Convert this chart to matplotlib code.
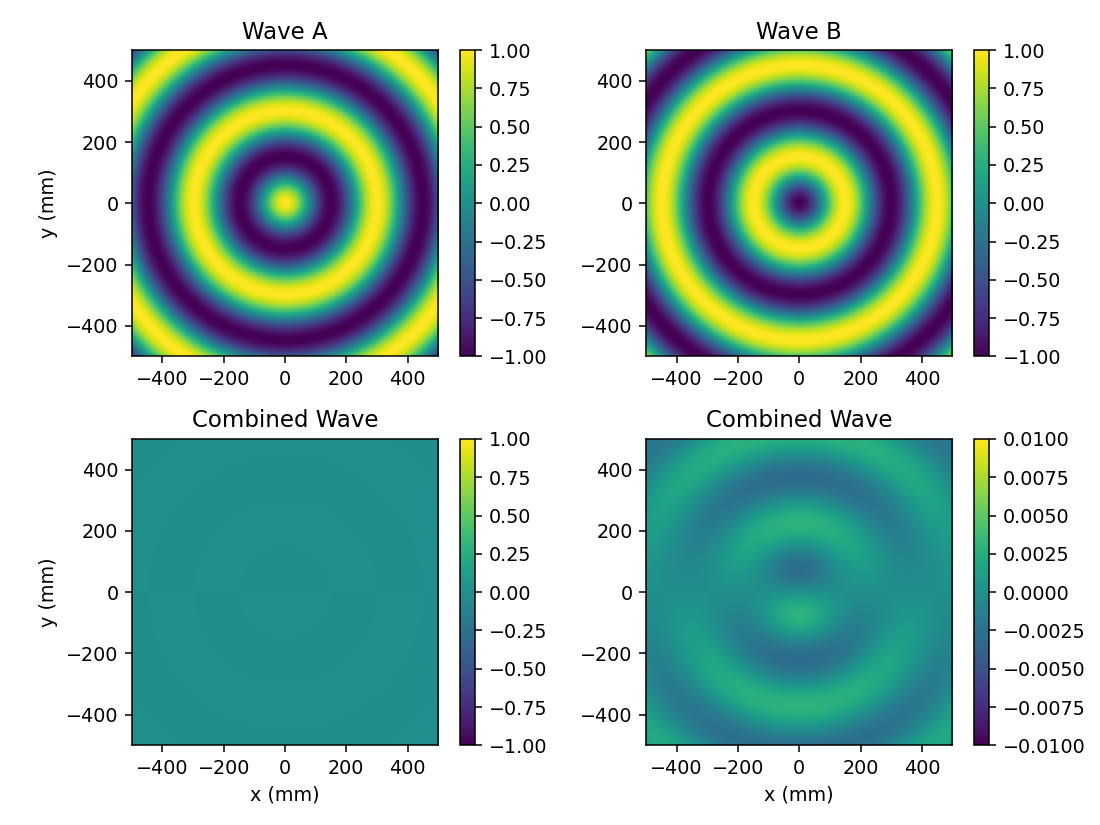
import numpy as np
import matplotlib
matplotlib.use("Agg")
import matplotlib.pyplot as plt

# Parameters
extent_mm = [-500, 500, -500, 500]
grid_n = 201
wavelength_mm = 300.0
source_a_y_mm = -0.07   # source of wave A (slightly below origin)
source_b_y_mm = 0.07    # source of wave B (slightly above origin)
phase_b = np.pi         # wave B is in antiphase
titles = ["Wave A", "Wave B", "Combined Wave", "Combined Wave"]
clims = [(-1, 1), (-1, 1), (-1, 1), (-0.01, 0.01)]

x = np.linspace(extent_mm[0], extent_mm[1], grid_n)
y = np.linspace(extent_mm[2], extent_mm[3], grid_n)
X, Y = np.meshgrid(x, y)
k = 2 * np.pi / wavelength_mm
rA = np.sqrt(X**2 + (Y - source_a_y_mm)**2)
rB = np.sqrt(X**2 + (Y - source_b_y_mm)**2)
wave_a = np.cos(k * rA)
wave_b = np.cos(k * rB + phase_b)
combined = wave_a + wave_b
fields = [wave_a, wave_b, combined, combined]

fig, axes = plt.subplots(2, 2, figsize=(8, 6), dpi=137.5)
for ax, f, t, (lo, hi) in zip(axes.flat, fields, titles, clims):
    im = ax.imshow(f, extent=extent_mm, origin="lower", cmap="viridis",
                   vmin=lo, vmax=hi)
    ax.set_title(t)
    fig.colorbar(im, ax=ax)
axes[0, 0].set_ylabel("y (mm)")
axes[1, 0].set_ylabel("y (mm)")
axes[1, 0].set_xlabel("x (mm)")
axes[1, 1].set_xlabel("x (mm)")
fig.tight_layout()
fig.savefig("out.png")
